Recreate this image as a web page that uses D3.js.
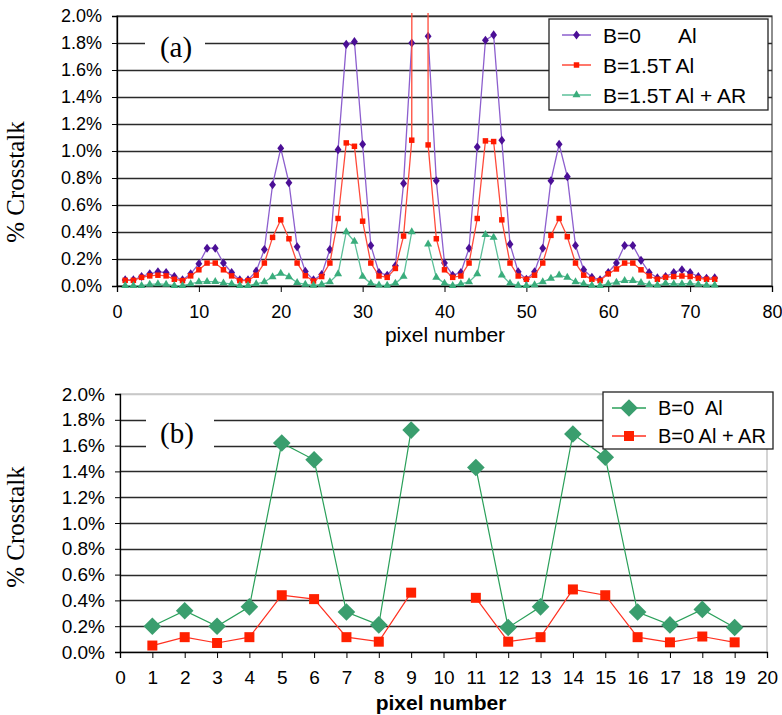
<!DOCTYPE html>
<html>
<head>
<meta charset="utf-8">
<script src="https://cdn.jsdelivr.net/npm/d3@7"></script>
<style>
  html, body { margin: 0; padding: 0; background: #fff; }
  svg { display: block; }
  .sans { font-family: "Liberation Sans", Arial, sans-serif; }
  .serif { font-family: "Liberation Serif", "Times New Roman", serif; }
</style>
</head>
<body>
<svg id="chart" width="782" height="715"></svg>
<script>
// ---- Panel (a): crosstalk along a 73-pixel row ----
const pixelsA = d3.range(1, 74);
const alB0 = [0.045,0.045,0.07,0.09,0.105,0.10,0.07,0.045,0.09,0.165,0.28,0.28,0.17,0.10,0.045,0.045,0.11,0.27,0.75,1.02,
  0.765,0.29,0.108,0.045,0.085,0.27,1.01,1.79,1.81,1.05,0.30,0.10,0.08,0.15,0.76,1.80,null,1.85,0.78,0.17,
  0.08,0.10,0.28,1.03,1.82,1.86,1.08,0.31,0.105,0.05,0.105,0.28,0.78,1.05,0.81,0.30,0.12,0.065,0.045,0.10,
  0.17,0.30,0.30,0.19,0.10,0.06,0.07,0.10,0.12,0.10,0.07,0.057,0.06];
const alB15 = [0.042,0.042,0.064,0.075,0.08,0.075,0.05,0.04,0.075,0.12,0.17,0.17,0.12,0.075,0.04,0.04,0.08,0.17,0.36,0.49,
  0.35,0.17,0.076,0.037,0.07,0.17,0.50,1.06,1.035,0.48,0.17,0.074,0.064,0.13,0.37,1.08,100,1.045,0.35,0.12,
  0.064,0.074,0.17,0.50,1.075,1.07,0.49,0.17,0.074,0.05,0.08,0.17,0.375,0.50,0.365,0.17,0.08,0.05,0.04,0.09,
  0.126,0.17,0.17,0.12,0.074,0.05,0.064,0.07,0.074,0.07,0.057,0.05,0.05];
const alArB15 = [0.003,0.003,0.003,0.012,0.015,0.012,0.003,0.003,0.015,0.03,0.032,0.032,0.022,0.015,0.003,0.003,0.015,0.03,0.068,0.094,
  0.068,0.025,0.012,0.005,0.012,0.03,0.09,0.40,0.33,0.07,0.02,0.007,0.005,0.02,0.07,0.40,null,0.31,0.064,0.02,
  0.003,0.015,0.03,0.09,0.38,0.36,0.08,0.02,0.005,0.003,0.008,0.03,0.057,0.08,0.064,0.03,0.015,0.005,0.003,0.015,
  0.027,0.04,0.04,0.025,0.01,0.007,0.02,0.015,0.015,0.02,0.012,0.007,0.007];
const xTicksA = [0,10,20,30,40,50,60,70,80];
const legendA = ["B=0", "B=1.5T Al", "B=1.5T Al + AR"];

// ---- Panel (b): crosstalk for 19 pixels ----
const pixelsB = d3.range(1, 20);
const bAl = [0.20,0.32,0.20,0.35,1.62,1.49,0.31,0.21,1.72,null,1.43,0.19,0.35,1.69,1.51,0.31,0.21,0.33,0.19];
const bAlAr = [0.05,0.115,0.07,0.115,0.44,0.41,0.115,0.08,0.46,null,0.42,0.08,0.115,0.485,0.44,0.115,0.075,0.12,0.075];
const xTicksB = d3.range(0, 21);
const legendB = ["B=0", "B=0 Al + AR"];

const yTicks = [0,0.2,0.4,0.6,0.8,1.0,1.2,1.4,1.6,1.8,2.0];
const pct = d => d3.format(".1f")(d) + "%";

const svg = d3.select("#chart");
svg.append("rect").attr("width", 782).attr("height", 715).attr("fill", "#fff");

function symbolPath(type, size) {
  return d3.symbol().type(type).size(size)();
}

// rhombus marker with adjustable width/height ratio
function rhombus(ratio) {
  return {
    draw(ctx, size) {
      const r = Math.sqrt(size) * 0.72;
      ctx.moveTo(0, -r); ctx.lineTo(r * ratio, 0); ctx.lineTo(0, r); ctx.lineTo(-r * ratio, 0); ctx.closePath();
    }
  };
}

function panel(cfg) {
  const g = svg.append("g");
  const x = d3.scaleLinear().domain(cfg.xDomain).range([cfg.left, cfg.right]);
  const y = d3.scaleLinear().domain([0, 2]).range([cfg.bottom, cfg.top]);

  // plot frame (right/top edges)
  g.append("rect").attr("x", cfg.left).attr("y", cfg.top)
    .attr("width", cfg.right - cfg.left).attr("height", cfg.bottom - cfg.top)
    .attr("fill", "none").attr("stroke", cfg.frame).attr("stroke-width", 1.2);

  // horizontal gridlines
  g.append("g").selectAll("line").data(yTicks.filter(t => t > 0)).join("line")
    .attr("x1", cfg.left).attr("x2", cfg.right)
    .attr("y1", d => Math.round(y(d)) + 0.5).attr("y2", d => Math.round(y(d)) + 0.5)
    .attr("stroke", d => d === 2 ? cfg.topGrid : "#2a2a2a").attr("stroke-width", 1.3);

  // y axis
  const ya = g.append("g").attr("transform", `translate(${cfg.left},0)`)
    .call(d3.axisLeft(y).tickValues(yTicks).tickFormat(pct).tickSize(5).tickPadding(10));
  ya.select(".domain").attr("stroke", "#000").attr("stroke-width", 1.3);
  ya.selectAll(".tick line").attr("stroke", "#000");
  ya.selectAll("text").attr("class", "sans").attr("font-size", cfg.yFont).attr("fill", "#000")
    .attr("font-family", null);

  // x axis
  const xa = g.append("g").attr("transform", `translate(0,${cfg.bottom})`)
    .call(d3.axisBottom(x).tickValues(cfg.xTicks).tickFormat(d3.format("d")).tickSize(6).tickPadding(cfg.xPad));
  xa.select(".domain").attr("stroke", "#000").attr("stroke-width", 1.3);
  xa.selectAll(".tick line").attr("stroke", "#000");
  xa.selectAll("text").attr("class", "sans").attr("font-size", cfg.xFont).attr("fill", "#000")
    .attr("font-family", null);

  // panel tag with white backing
  g.append("rect").attr("x", cfg.tag.x - 31).attr("y", cfg.tag.y - 22)
    .attr("width", cfg.tag.w).attr("height", 42).attr("fill", "#fff");
  g.append("text").attr("class", "serif").attr("x", cfg.tag.x).attr("y", cfg.tag.y + 10)
    .attr("text-anchor", "middle").attr("font-size", 29).text(cfg.tag.label);

  // axis titles
  g.append("text").attr("class", "serif")
    .attr("transform", `translate(${cfg.yTitle[0]},${cfg.yTitle[1]}) rotate(-90)`)
    .attr("text-anchor", "middle").attr("font-size", 25).text("% Crosstalk");
  g.append("text").attr("class", "sans")
    .attr("x", cfg.xTitle[0]).attr("y", cfg.xTitle[1])
    .attr("text-anchor", "middle").attr("font-size", cfg.xTitleFont)
    .attr("font-weight", cfg.xTitleBold ? "bold" : "normal").text("pixel number");

  // data area clip
  const clipId = "clip" + cfg.tag.label.replace(/\W/g, "");
  svg.append("clipPath").attr("id", clipId).append("rect")
    .attr("x", cfg.left).attr("y", cfg.top - 3)
    .attr("width", cfg.right - cfg.left).attr("height", cfg.bottom - cfg.top + 6);
  const data = g.append("g").attr("clip-path", `url(#${clipId})`);

  cfg.series.forEach(s => {
    const pts = cfg.pixels.map((p, i) => ({ p, v: s.values[i] }));
    const line = d3.line().defined(d => d.v != null).x(d => x(d.p)).y(d => y(d.v));
    data.append("path").attr("d", line(pts)).attr("fill", "none")
      .attr("stroke", s.line).attr("stroke-width", s.lw);
    data.append("g").selectAll("path")
      .data(pts.filter(d => d.v != null && d.v <= 2)).join("path")
      .attr("transform", d => `translate(${x(d.p)},${y(d.v)})`)
      .attr("d", symbolPath(s.symbol, s.size)).attr("fill", s.fill);
  });

  // legend
  const L = cfg.legend;
  g.append("rect").attr("x", L.x).attr("y", L.y).attr("width", L.w).attr("height", L.h)
    .attr("fill", "#fff").attr("stroke", "#222").attr("stroke-width", 1.3);
  cfg.series.forEach((s, i) => {
    const ry = L.rows[i];
    g.append("line").attr("x1", L.lx1).attr("x2", L.lx2).attr("y1", ry).attr("y2", ry)
      .attr("stroke", s.line).attr("stroke-width", s.lw + 0.2);
    g.append("path").attr("transform", `translate(${(L.lx1 + L.lx2) / 2},${ry})`)
      .attr("d", symbolPath(s.symbol, s.size)).attr("fill", s.fill);
    const t = g.append("text").attr("class", "sans").attr("x", L.tx).attr("y", ry + L.font * 0.36)
      .attr("font-size", L.font).text(s.name);
    if (s.suffix) t.append("tspan").attr("x", s.suffixX).text(s.suffix);
  });
}

panel({
  xDomain: [0, 80], left: 117, right: 772, top: 16, bottom: 286,
  frame: "#444", topGrid: "#333", yFont: 18, xFont: 18, xPad: 13,
  xTicks: xTicksA, pixels: pixelsA,
  tag: { x: 176, y: 47, w: 60, label: "(a)" },
  yTitle: [24, 182], xTitle: [445, 342], xTitleFont: 21, xTitleBold: false,
  series: [
    { name: legendA[0], suffix: "Al", suffixX: 678, values: alB0, line: "#8d5fce", fill: "#4b0f96", lw: 1.3, symbol: rhombus(0.75), size: 40 },
    { name: legendA[1], values: alB15, line: "#ff4a3a", fill: "#ff1a00", lw: 1.3, symbol: d3.symbolSquare, size: 30 },
    { name: legendA[2], values: alArB15, line: "#5cc09a", fill: "#3aad7c", lw: 1.3, symbol: d3.symbolTriangle, size: 28 }
  ],
  legend: { x: 549, y: 19, w: 219, h: 91, rows: [35, 65, 95], lx1: 562, lx2: 591, tx: 603, font: 21 }
});

panel({
  xDomain: [0, 20], left: 120, right: 767, top: 394, bottom: 652,
  frame: "#b8b8b8", topGrid: "#c8c8c8", yFont: 19, xFont: 19, xPad: 13,
  xTicks: xTicksB, pixels: pixelsB,
  tag: { x: 177, y: 433, w: 68, label: "(b)" },
  yTitle: [24, 527], xTitle: [441, 710], xTitleFont: 21, xTitleBold: true,
  series: [
    { name: legendB[0], suffix: "Al", suffixX: 705, values: bAl, line: "#2aa05a", fill: "#3a9e6e", lw: 1.2, symbol: rhombus(1), size: 150 },
    { name: legendB[1], values: bAlAr, line: "#ff3020", fill: "#ff2000", lw: 1.2, symbol: d3.symbolSquare, size: 100 }
  ],
  legend: { x: 603, y: 392, w: 170, h: 57, rows: [408, 436], lx1: 612, lx2: 646, tx: 658, font: 20 }
});
</script>
</body>
</html>
